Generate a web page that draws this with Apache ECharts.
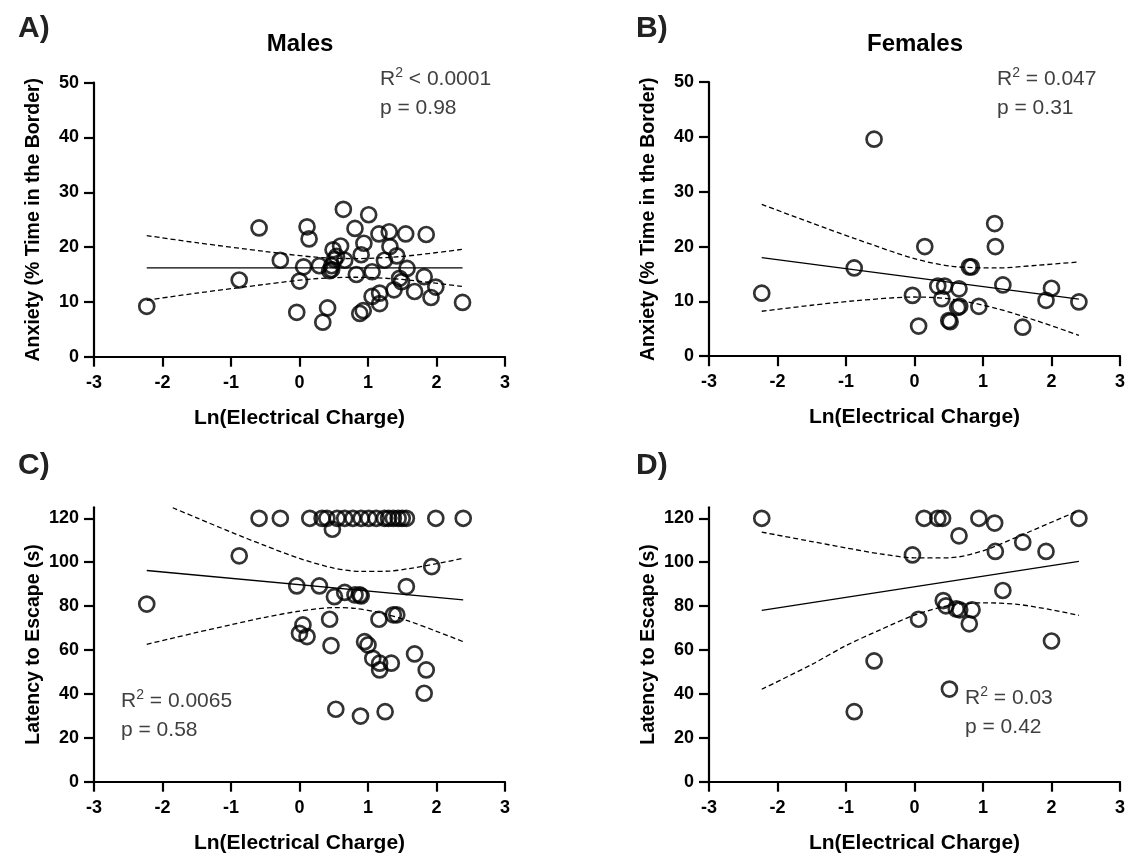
<!DOCTYPE html>
<html>
<head>
<meta charset="utf-8">
<script src="https://cdn.jsdelivr.net/npm/echarts@6/dist/echarts.min.js"></script>
<style>html,body{margin:0;padding:0;background:#fff}#c{width:1131px;height:857px}</style>
</head>
<body>
<div id="c"></div>
<script>
// ---------- DATA ----------
const xTicks = [-3, -2, -1, 0, 1, 2, 3];
const anxietyTicks = [0, 10, 20, 30, 40, 50];
const latencyTicks = [0, 20, 40, 60, 80, 100, 120];

// Panel A: males, anxiety
const maleAnxiety = [
  [-2.23, 9.2], [-0.88, 14.0], [-0.59, 23.5], [-0.28, 17.6], [0.11, 23.7], [0.14, 21.5],
  [0.06, 16.4], [0.0, 13.8], [-0.04, 8.1], [0.29, 16.6], [0.34, 6.3], [0.41, 8.9],
  [0.44, 15.7], [0.47, 16.6], [0.49, 19.5], [0.51, 17.7], [0.54, 18.3], [0.60, 20.2],
  [0.66, 17.6], [0.64, 26.9], [0.81, 23.4], [0.83, 15.0], [0.90, 18.6], [0.94, 20.7],
  [0.88, 7.9], [0.93, 8.4], [1.01, 25.9], [1.06, 15.5], [1.16, 22.4], [1.31, 22.8],
  [1.55, 22.4], [1.85, 22.3], [1.32, 20.1], [1.42, 18.4], [1.24, 17.6], [1.57, 16.1],
  [1.46, 14.3], [1.49, 13.7], [1.38, 12.2], [1.82, 14.6], [1.99, 12.7], [1.68, 11.9],
  [1.92, 10.8], [2.38, 9.9], [1.06, 11.0], [1.17, 11.6], [1.17, 9.7], [0.47, 15.9]
];
const maleAnxietyFit = [[-2.23, 16.2], [2.38, 16.2]];
const maleAnxietyUpper = [[-2.23, 22.1], [-1.5, 20.8], [-0.5, 19.2], [0.2, 18.2], [0.8, 17.9], [1.5, 18.3], [2.38, 19.6]];
const maleAnxietyLower = [[-2.23, 10.3], [-1.5, 11.6], [-0.5, 13.2], [0.2, 14.2], [0.8, 14.5], [1.5, 14.1], [2.38, 12.8]];

// Panel B: females, anxiety
const femaleAnxiety = [
  [-2.23, 11.5], [-0.88, 16.1], [-0.59, 39.6], [-0.03, 11.1], [0.06, 5.5], [0.15, 20.0],
  [0.34, 12.8], [0.44, 12.8], [0.40, 10.5], [0.65, 12.3], [0.50, 6.5], [0.52, 6.3],
  [0.63, 8.9], [0.66, 9.1], [0.80, 16.3], [0.83, 16.3], [0.94, 9.1], [1.17, 24.2],
  [1.18, 20.0], [1.29, 13.0], [1.58, 5.3], [1.92, 10.2], [2.00, 12.4], [2.40, 9.9]
];
const femaleAnxietyFit = [[-2.23, 18.0], [2.40, 10.4]];
const femaleAnxietyUpper = [[-2.23, 27.7], [-1.5, 24.3], [-0.88, 21.5], [0, 17.8], [0.55, 16.4], [1.2, 16.1], [1.8, 16.6], [2.40, 17.2]];
const femaleAnxietyLower = [[-2.23, 8.2], [-1.5, 9.3], [-0.88, 10.1], [0, 10.8], [0.55, 10.4], [1.2, 8.7], [1.8, 6.4], [2.40, 3.8]];

// Panel C: males, latency
const maleLatency = [
  [-0.59, 120], [-0.28, 120], [0.15, 120], [0.33, 120], [0.40, 120], [0.55, 120], [0.66, 120],
  [0.78, 120], [0.90, 120], [1.01, 120], [1.12, 120], [1.24, 120], [1.30, 120], [1.37, 120],
  [1.44, 120], [1.50, 120], [1.56, 120], [1.99, 120], [2.39, 120],
  [0.48, 115], [-2.23, 80.9], [-0.88, 102.9], [-0.04, 89.2], [0.29, 89.2], [0.51, 84.3],
  [0.66, 86.2], [0.81, 85.1], [0.88, 85.1], [0.90, 84.6], [1.56, 88.9], [1.93, 98.0],
  [0.44, 74.0], [0.05, 71.4], [0.0, 67.6], [0.11, 66.1], [0.46, 62.0], [1.16, 74.0],
  [1.37, 76.0], [1.42, 76.0], [0.95, 63.8], [1.0, 62.3], [1.07, 56.2], [1.17, 54.0],
  [1.17, 50.9], [1.34, 54.0], [1.68, 58.2], [1.85, 50.9], [1.82, 40.3], [0.53, 33.0],
  [0.89, 29.9], [1.25, 31.9]
];
const maleLatencyFit = [[-2.23, 96.2], [2.39, 82.8]];
const maleLatencyUpper = [[-1.85, 124.8], [-1.5, 120.2], [-1.0, 113.7], [-0.5, 107.5], [0, 101.7], [0.5, 97.3], [0.9, 95.8], [1.3, 95.9], [1.6, 97.1], [2.0, 99.3], [2.39, 101.8]];
const maleLatencyLower = [[-2.23, 62.6], [-1.85, 65.4], [-1.5, 68.0], [-1.0, 71.5], [-0.5, 74.9], [0, 77.7], [0.5, 79.3], [0.8, 79.0], [1.2, 76.8], [1.6, 73.1], [2.0, 68.5], [2.39, 63.8]];

// Panel D: females, latency
const femaleLatency = [
  [-2.23, 120], [-0.03, 103.3], [0.14, 120], [0.34, 120], [0.41, 120], [0.65, 112.0],
  [0.94, 120], [1.17, 117.8], [1.18, 104.9], [1.58, 109.1], [1.92, 104.9], [2.40, 120],
  [1.29, 87.1], [0.42, 82.5], [0.46, 80.1], [0.61, 78.7], [0.66, 78.3], [0.84, 78.3],
  [0.80, 71.9], [0.06, 74.0], [2.00, 64.1], [-0.59, 55.0], [-0.88, 31.9], [0.51, 42.2]
];
const femaleLatencyFit = [[-2.23, 78.0], [2.40, 100.4]];
const femaleLatencyUpper = [[-2.23, 113.7], [-1.5, 109.4], [-1.0, 106.5], [-0.5, 103.8], [0, 102.0], [0.5, 102.0], [1.0, 105.2], [1.5, 111.5], [2.0, 118.2], [2.40, 123.5]];
const femaleLatencyLower = [[-2.23, 42.1], [-1.5, 53.4], [-1.0, 62.0], [-0.5, 69.2], [0, 75.9], [0.5, 80.2], [1.0, 81.5], [1.5, 80.8], [2.0, 78.3], [2.40, 75.8]];

// ---------- CHART ----------
const FONT = "'Liberation Sans', Arial, sans-serif";
const chart = echarts.init(document.getElementById('c'), null, {renderer: 'canvas'});

const grids = [
  {left: 94, top: 82.7, width: 411, height: 274},
  {left: 709, top: 82.2, width: 411, height: 274},
  {left: 94, top: 507.3, width: 411, height: 274.4},
  {left: 709, top: 507.3, width: 411, height: 274.4}
];

function xAx(i) {
  return {
    type: 'value', gridIndex: i, min: -3, max: 3, interval: 1,
    name: 'Ln(Electrical Charge)', nameLocation: 'middle', nameGap: 51,
    nameTextStyle: {fontFamily: FONT, fontWeight: 'bold', fontSize: 21, color: '#000'},
    axisLine: {show: true, onZero: false, lineStyle: {color: '#000', width: 2.2}},
    axisTick: {show: true, length: 10, lineStyle: {color: '#000', width: 2.2}},
    axisLabel: {fontFamily: FONT, fontWeight: 'bold', fontSize: 18, color: '#000', margin: 17,
      customValues: xTicks},
    splitLine: {show: false}
  };
}
function yAx(i, name, max, ticks, interval) {
  return {
    type: 'value', gridIndex: i, min: 0, max: max, interval: interval,
    name: name, nameLocation: 'middle', nameGap: 50,
    nameTextStyle: {fontFamily: FONT, fontWeight: 'bold', fontSize: 19.5, color: '#000'},
    axisLine: {show: true, onZero: false, lineStyle: {color: '#000', width: 2.2}},
    axisTick: {show: true, length: 10, lineStyle: {color: '#000', width: 2.2}, customValues: ticks},
    axisLabel: {fontFamily: FONT, fontWeight: 'bold', fontSize: 18, color: '#000', margin: 15,
      customValues: ticks},
    splitLine: {show: false}
  };
}

function scatter(i, data) {
  return {type: 'scatter', xAxisIndex: i, yAxisIndex: i, data: data, symbol: 'circle', symbolSize: 15,
    itemStyle: {color: 'rgba(0,0,0,0)', borderColor: '#000', borderWidth: 2.7}, z: 3, silent: true};
}
function fit(i, data) {
  return {type: 'line', xAxisIndex: i, yAxisIndex: i, data: data, showSymbol: false, symbol: 'none',
    lineStyle: {color: '#000', width: 1.3}, z: 2, silent: true};
}
function band(i, data) {
  return {type: 'line', xAxisIndex: i, yAxisIndex: i, data: data, showSymbol: false, symbol: 'none', smooth: 0.3,
    lineStyle: {color: '#000', width: 1.3, type: [5, 3]}, z: 2, silent: true};
}

function txt(x, y, s, opts) {
  return {type: 'text', x: x, y: y, silent: true,
    style: Object.assign({text: s, fontFamily: FONT, fill: '#000', verticalAlign: 'middle', align: 'left'}, opts)};
}
const statRich = {
  n: {fontFamily: FONT, fontSize: 21, fill: '#404040', lineHeight: 26},
  s: {fontFamily: FONT, fontSize: 14, fill: '#404040', lineHeight: 16, verticalAlign: 'top'}
};
function stat(x, y, rest) {
  return {type: 'text', x: x, y: y, silent: true,
    style: {text: '{n|R}{s|2}{n|' + rest + '}', rich: statRich, verticalAlign: 'middle', align: 'left'}};
}

const statStyle = {fontSize: 21, fill: '#404040'};
const letterStyle = {fontSize: 30, fontWeight: 'bold', fill: '#222'};
const titleStyle = {fontSize: 24, fontWeight: 'bold', fill: '#000', align: 'center'};

const option = {
  animation: false,
  backgroundColor: '#fff',
  grid: grids,
  xAxis: [xAx(0), xAx(1), xAx(2), xAx(3)],
  yAxis: [
    yAx(0, 'Anxiety (% Time in the Border)', 50, anxietyTicks, 10),
    yAx(1, 'Anxiety (% Time in the Border)', 50, anxietyTicks, 10),
    yAx(2, 'Latency to Escape (s)', 125, latencyTicks, 20),
    yAx(3, 'Latency to Escape (s)', 125, latencyTicks, 20)
  ],
  series: [
    scatter(0, maleAnxiety), fit(0, maleAnxietyFit), band(0, maleAnxietyUpper), band(0, maleAnxietyLower),
    scatter(1, femaleAnxiety), fit(1, femaleAnxietyFit), band(1, femaleAnxietyUpper), band(1, femaleAnxietyLower),
    scatter(2, maleLatency), fit(2, maleLatencyFit), band(2, maleLatencyUpper), band(2, maleLatencyLower),
    scatter(3, femaleLatency), fit(3, femaleLatencyFit), band(3, femaleLatencyUpper), band(3, femaleLatencyLower)
  ],
  graphic: [
    txt(18, 29, 'A)', letterStyle),
    txt(636, 29, 'B)', letterStyle),
    txt(18, 466, 'C)', letterStyle),
    txt(636, 466, 'D)', letterStyle),
    txt(300, 44, 'Males', titleStyle),
    txt(915, 44, 'Females', titleStyle),
    stat(380, 79, ' < 0.0001'),
    txt(380, 108, 'p = 0.98', statStyle),
    stat(997, 79, ' = 0.047'),
    txt(997, 108, 'p = 0.31', statStyle),
    stat(121, 701, ' = 0.0065'),
    txt(121, 730, 'p = 0.58', statStyle),
    stat(965, 698, ' = 0.03'),
    txt(965, 727, 'p = 0.42', statStyle)
  ]
};
chart.setOption(option);
</script>
</body>
</html>
